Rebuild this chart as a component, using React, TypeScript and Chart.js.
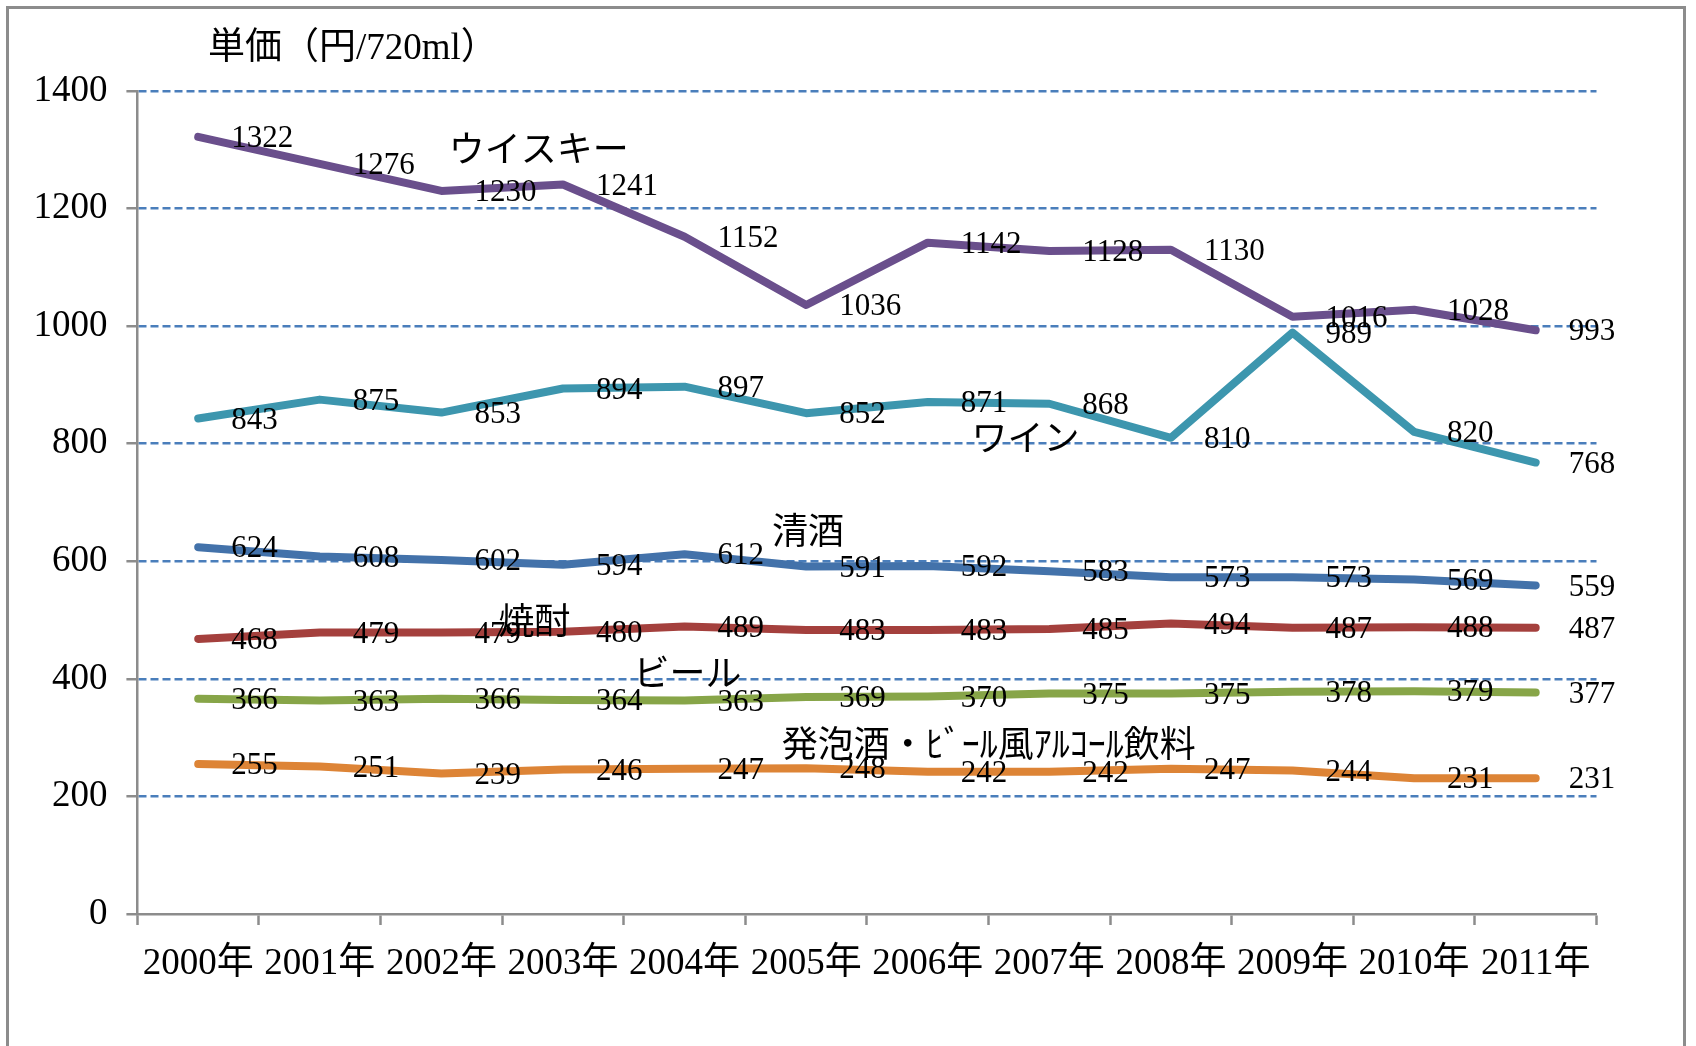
import React, { useEffect, useRef } from "react";
import { Chart, registerables } from "chart.js";

Chart.register(...registerables);

const years = ["2000年", "2001年", "2002年", "2003年", "2004年", "2005年", "2006年", "2007年", "2008年", "2009年", "2010年", "2011年"];

const whisky = [1322, 1276, 1230, 1241, 1152, 1036, 1142, 1128, 1130, 1016, 1028, 993];
const wine = [843, 875, 853, 894, 897, 852, 871, 868, 810, 989, 820, 768];
const sake = [624, 608, 602, 594, 612, 591, 592, 583, 573, 573, 569, 559];
const shochu = [468, 479, 479, 480, 489, 483, 483, 485, 494, 487, 488, 487];
const beer = [366, 363, 366, 364, 363, 369, 370, 375, 375, 378, 379, 377];
const happoshu = [255, 251, 239, 246, 247, 248, 242, 242, 247, 244, 231, 231];

const seriesNames = ["ウイスキー", "ワイン", "清酒", "焼酎", "ビール", "発泡酒・ﾋﾞｰﾙ風ｱﾙｺｰﾙ飲料"];
const seriesColors = ["#6A4F8C", "#3D96AE", "#4372AA", "#A4403D", "#87A548", "#DD8436"];
// annotation anchor: category index (fractional) and value
const nameAtIndex = [2.06, 6.36, 4.72, 2.47, 3.58, 4.8];
const nameAtValue = [1295, 803, 645, 492, 404, 284];

const yTitle = "単価（円/720ml）";

const SERIF = '"Liberation Serif", "Noto Sans CJK JP", serif';

export default function App() {
  const ref = useRef<HTMLCanvasElement | null>(null);
  useEffect(() => {
    const canvas = ref.current;
    if (!canvas) return;
    const all = [whisky, wine, sake, shochu, beer, happoshu];
    const labelPlugin = {
      id: "labels",
      afterDatasetsDraw(chart: any) {
        const ctx = chart.ctx;
        ctx.save();
        ctx.fillStyle = "#000";
        ctx.font = `31px ${SERIF}`;
        ctx.textAlign = "left";
        ctx.textBaseline = "middle";
        chart.data.datasets.forEach((ds: any, di: number) => {
          const meta = chart.getDatasetMeta(di);
          meta.data.forEach((pt: any, i: number) => {
            ctx.fillText(String(ds.data[i]), pt.x + 33, pt.y + 2);
          });
        });
        // series names
        const xs = chart.scales.x;
        const ys = chart.scales.y;
        ctx.font = `36px ${SERIF}`;
        seriesNames.forEach((n, i) => {
          const x = xs.getPixelForValue(nameAtIndex[i]);
          const y = ys.getPixelForValue(nameAtValue[i]);
          ctx.fillText(n, x, y);
        });
        // y title
        ctx.font = `37px ${SERIF}`;
        ctx.fillText(yTitle, 208, 49);
        ctx.restore();
      },
    };
    const chart = new Chart(canvas, {
      type: "line",
      data: {
        labels: years,
        datasets: all.map((d, i) => ({
          label: seriesNames[i],
          data: d,
          borderColor: seriesColors[i],
          backgroundColor: seriesColors[i],
          borderWidth: 8,
          pointRadius: 0,
          tension: 0,
          borderJoinStyle: "round" as const,
          borderCapStyle: "round" as const,
          fill: false,
        })),
      },
      options: {
        animation: false,
        responsive: false,
        maintainAspectRatio: false,
        layout: { padding: { left: 0, right: 99.5, top: 91, bottom: 0 } },
        plugins: { legend: { display: false }, tooltip: { enabled: false }, title: { display: false } },
        scales: {
          x: {
            type: "category",
            offset: true,
            grid: {
              display: true,
              offset: true,
              drawOnChartArea: false,
              drawTicks: true,
              tickLength: 11,
              tickColor: "#8C8C8C",
              tickWidth: 2.5,
            },
            border: { display: true, color: "#8C8C8C", width: 2.5 },
            ticks: {
              color: "#000",
              font: { family: SERIF, size: 37 },
              padding: 17,
              maxRotation: 0,
              autoSkip: false,
            },
            afterFit: (s: any) => {
              s.height = 132;
            },
          },
          y: {
            min: 0,
            max: 1400,
            grid: {
              color: (c: any) => (c.tick && c.tick.value === 0 ? "rgba(0,0,0,0)" : "#4A7EBB"),
              lineWidth: 2.5,
              drawTicks: true,
              tickLength: 11,
              tickColor: "#8C8C8C",
              tickWidth: 2.5,
            },
            border: { display: true, color: "#8C8C8C", width: 2.5, dash: [8, 4] },
            ticks: {
              stepSize: 200,
              color: "#000",
              font: { family: SERIF, size: 37 },
              padding: 19,
              callback: (v: any) => String(v),
            },
            afterFit: (s: any) => {
              s.width = 137.4;
            },
          },
        },
      },
      plugins: [labelPlugin],
    });
    return () => chart.destroy();
  }, []);
  return (
    <div style={{ position: "absolute", left: 0, top: 0, width: 1696, height: 1046, background: "#fff", overflow: "hidden" }}>
      <div
        style={{
          position: "absolute",
          left: 6,
          top: 6,
          width: 1680,
          height: 1100,
          border: "3px solid #8C8C8C",
          boxSizing: "border-box",
        }}
      />
      <canvas ref={ref} width={1696} height={1046} style={{ position: "absolute", left: 0, top: 0, width: 1696, height: 1046 }} />
    </div>
  );
}
